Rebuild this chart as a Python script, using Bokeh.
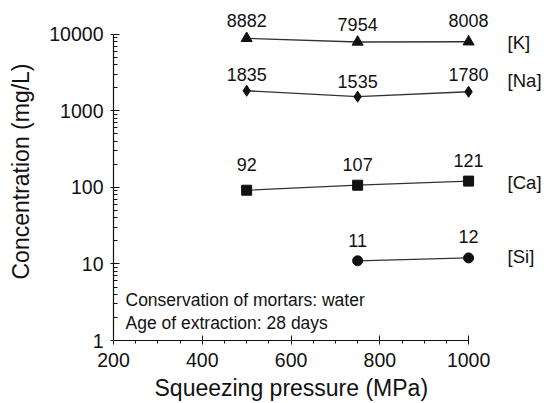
from bokeh.plotting import figure
from bokeh.models import (ColumnDataSource, Range1d, SingleIntervalTicker, LogTicker,
                          NumeralTickFormatter, Title)
from bokeh.core.properties import value
from bokeh.embed import file_html
from bokeh.resources import INLINE

# Squeezing pressures (MPa) and pore-solution concentrations (mg/L)
pressure = [500, 750, 1000]
k_conc = [8882, 7954, 8008]
na_conc = [1835, 1535, 1780]
ca_conc = [92, 107, 121]
si_pressure = [750, 1000]
si_conc = [11, 12]

series_names = ["[K]", "[Na]", "[Ca]", "[Si]"]
note_lines = ["Conservation of mortars: water", "Age of extraction: 28 days"]

FONT = "Liberation Sans"
INK = "#111111"
LINE = "#333333"

p = figure(width=544, height=403, output_backend="svg", toolbar_location=None,
           y_axis_type="log",
           x_range=Range1d(200, 1171), y_range=Range1d(1, 26100),
           min_border_left=113, min_border_right=0, min_border_top=2, min_border_bottom=62)
p.outline_line_color = None
p.xgrid.visible = False
p.ygrid.visible = False
p.background_fill_color = "white"
p.border_fill_color = "white"

# axes: only drawn over the data span
xa = p.xaxis[0]
xa.bounds = (200, 1000)
xa.ticker = SingleIntervalTicker(interval=200, num_minor_ticks=4)
xa.major_tick_in = 5
xa.major_tick_out = 4
xa.minor_tick_in = 0
xa.minor_tick_out = 3
xa.major_label_standoff = 8
ya = p.yaxis[0]
ya.bounds = (1, 10000)
ya.ticker = LogTicker(num_minor_ticks=10)
ya.formatter = NumeralTickFormatter(format="0")
ya.major_tick_in = 6
ya.major_tick_out = 3
ya.minor_tick_in = 4
ya.minor_tick_out = 0
ya.major_label_standoff = 7
ya.axis_label = "Concentration (mg/L)"
ya.axis_label_standoff = 12
for ax in (xa, ya):
    ax.axis_line_color = INK
    ax.major_tick_line_color = INK
    ax.minor_tick_line_color = INK
    ax.axis_line_width = 1.2
    ax.major_label_text_font = FONT
    ax.major_label_text_font_size = "19.5px"
    ax.major_label_text_color = INK
    ax.axis_label_text_font = FONT
    ax.axis_label_text_font_size = "23px"
    ax.axis_label_text_font_style = "normal"
    ax.axis_label_text_color = INK

# x-axis title, placed under the drawn span of the axis (200-1000)
p.add_layout(Title(text="Squeezing pressure (MPa)", align="left", offset=41,
                   standoff=6, text_font=FONT, text_font_size="23px",
                   text_font_style="normal", text_color=INK), "below")

# one source per element series
def add_series(xs, ys, marker, size, dy):
    src = ColumnDataSource(dict(x=xs, y=ys, lab=[str(v) for v in ys], dy=dy))
    p.line("x", "y", source=src, line_color=LINE, line_width=1.3)
    p.scatter("x", "y", source=src, marker=marker, size=size,
              fill_color=INK, line_color=INK)
    p.text("x", "y", text="lab", source=src, y_offset="dy",
           text_font=value(FONT), text_font_size="18px", text_color=INK,
           text_align="center", text_baseline="middle")
    return src

add_series(pressure, k_conc, "triangle", 11, [-18, -17, -21])
add_series(pressure, na_conc, "diamond", 11, [-16, -15, -17])
add_series(pressure, ca_conc, "square", 10, [-26, -21, -21])
add_series(si_pressure, si_conc, "circle", 10, [-20, -21])

# element names to the right of the last point of each series
name_src = ColumnDataSource(dict(
    x=[pressure[-1], pressure[-1], pressure[-1], si_pressure[-1]],
    y=[k_conc[-1], na_conc[-1], ca_conc[-1], si_conc[-1]],
    t=series_names,
    dy=[1, -11, 1, -1],
))
p.text("x", "y", text="t", source=name_src, x_offset=39, y_offset="dy",
       text_font=value(FONT), text_font_size="18.5px", text_color=INK,
       text_align="left", text_baseline="middle")

# experimental conditions
note_src = ColumnDataSource(dict(x=[200, 200], y=[1, 1], t=note_lines, dy=[-41, -18]))
p.text("x", "y", text="t", source=note_src, x_offset=12, y_offset="dy",
       text_font=value(FONT), text_font_size="17.5px", text_color=INK,
       text_align="left", text_baseline="middle")

open("out.html", "w").write(file_html(p, INLINE))
